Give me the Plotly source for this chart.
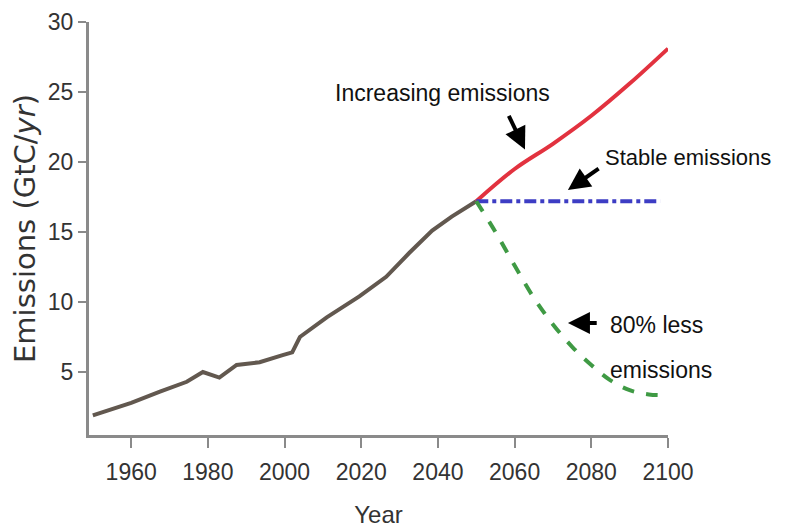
import plotly.graph_objects as go

# Historical emissions (GtC/yr)
hist_years = [1950, 1960, 1967.5, 1974.5, 1978.7, 1983, 1987.5, 1993.5, 1999.5, 2002, 2004, 2011, 2019.5, 2026.5, 2032.5, 2038.5, 2043.6, 2050]
hist_vals = [1.9, 2.8, 3.6, 4.3, 5.0, 4.6, 5.5, 5.7, 6.2, 6.4, 7.5, 8.9, 10.4, 11.8, 13.5, 15.1, 16.1, 17.2]

# Scenarios
inc_years = [2050, 2060, 2070, 2080, 2090, 2100]
inc_vals = [17.2, 19.5, 21.3, 23.3, 25.6, 28.1]

stable_years = [2050, 2060, 2070, 2080, 2090, 2098]
stable_vals = [17.2, 17.2, 17.2, 17.2, 17.2, 17.2]

low_years = [2050, 2055, 2060, 2065, 2070, 2075, 2080, 2085, 2090, 2095, 2098]
low_vals = [17.2, 15.0, 12.6, 10.3, 8.4, 6.8, 5.5, 4.4, 3.7, 3.4, 3.35]

x_ticks = [1960, 1980, 2000, 2020, 2040, 2060, 2080, 2100]
y_ticks = [5, 10, 15, 20, 25, 30]

labels = ["Increasing emissions", "Stable emissions", "80% less", "emissions"]
label_pos = [(2041.1, 24.93, "center"), (2083.0, 20.29, "left"), (2084.4, 8.36, "left"), (2084.4, 5.14, "left")]
# arrows: (tail_x, tail_y, head_x, head_y)
arrows = [(2058.3, 23.4, 2062.7, 20.9), (2082.3, 19.6, 2073.9, 18.0), (2081.8, 8.5, 2073.9, 8.5)]

FONT = "Liberation Sans Narrow, Liberation Sans, Arial, sans-serif"

fig = go.Figure()
fig.add_trace(go.Scatter(x=hist_years, y=hist_vals, mode="lines",
                         line=dict(color="#62584f", width=4), showlegend=False))
fig.add_trace(go.Scatter(x=inc_years, y=inc_vals, mode="lines", line_shape="spline",
                         line=dict(color="#e2323f", width=4), showlegend=False))
fig.add_trace(go.Scatter(x=stable_years, y=stable_vals, mode="lines",
                         line=dict(color="#3d3dc4", width=4, dash="dashdot"), showlegend=False))
fig.add_trace(go.Scatter(x=low_years, y=low_vals, mode="lines", line_shape="spline",
                         line=dict(color="#3f9a44", width=4, dash="dash"), showlegend=False))

for i, (txt, (x, y, anc)) in enumerate(zip(labels, label_pos)):
    fig.add_annotation(x=x, y=y, text=txt, showarrow=False, xanchor=anc, yanchor="middle",
                       font=dict(family=FONT, size=22 if i == 1 else 23, color="#111"))

for tx, ty, hx, hy in arrows:
    fig.add_annotation(x=hx, y=hy, ax=tx, ay=ty, axref="x", ayref="y", xref="x", yref="y",
                       text="", showarrow=True, arrowhead=2, arrowsize=1.1, arrowwidth=4,
                       arrowcolor="#000")

fig.update_layout(
    width=786, height=529,
    margin=dict(l=81, r=126, t=14, b=102),
    paper_bgcolor="white", plot_bgcolor="white",
    xaxis=dict(range=[1949, 2100], tickvals=x_ticks, showgrid=False, zeroline=False,
               automargin=False,
               showline=True, linecolor="#8a8a8a", linewidth=3,
               ticks="outside", ticklen=10, tickwidth=2, tickcolor="#8a8a8a",
               ticklabelstandoff=4,
               tickfont=dict(family=FONT, size=23, color="#333"),
               title=dict(text="Year", font=dict(family=FONT, size=24, color="#333"), standoff=23)),
    yaxis=dict(range=[0.5, 30], tickvals=y_ticks, showgrid=False, zeroline=False,
               automargin=False,
               showline=True, linecolor="#8a8a8a", linewidth=3,
               ticks="outside", ticklen=8, tickwidth=2, tickcolor="#8a8a8a",
               tickfont=dict(family=FONT, size=23, color="#333"),
               title=dict(text="Emissions (GtC/<i>yr</i>)", font=dict(family="DejaVu Sans", size=29, color="#333"), standoff=4)),
)

fig.write_html("out.html")
